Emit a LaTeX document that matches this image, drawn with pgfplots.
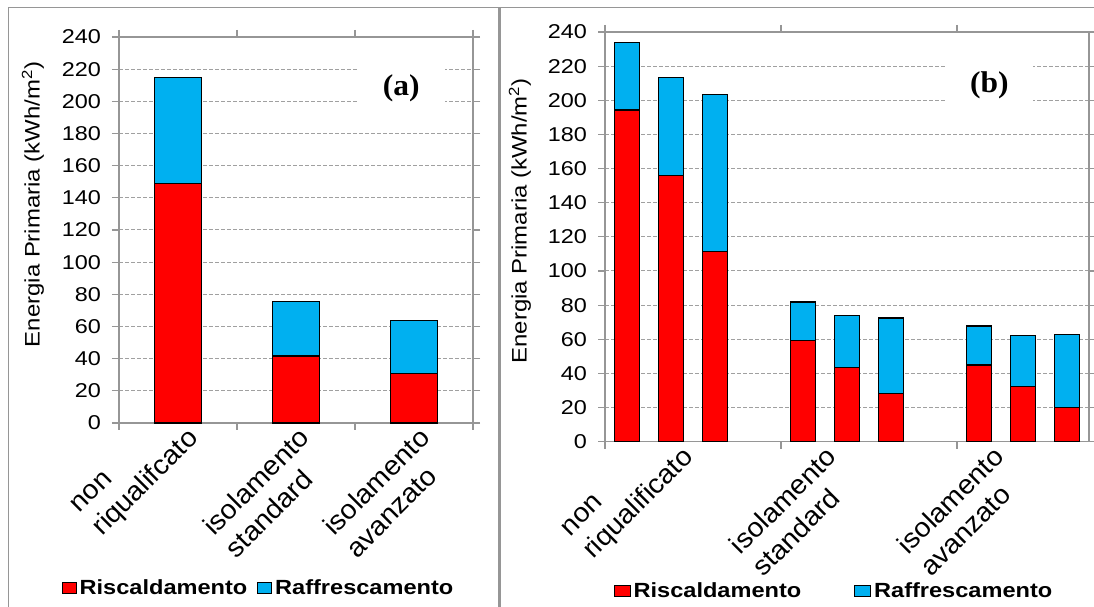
\documentclass[border=0pt]{standalone}
\usepackage{fontspec}
\setmainfont{Liberation Sans}
\newfontfamily\tickfont{Liberation Sans}[FakeStretch=1.17]
\newfontfamily\ylabfont{Liberation Sans}[FakeStretch=1.14]
\newfontfamily\xlabfont{Liberation Sans}[FakeStretch=1.05]
\newfontfamily\legfont{Liberation Sans}[FakeStretch=1.15]
\newfontfamily\panfont{Liberation Serif}[FakeStretch=1.05]
\usepackage{pgfplots}
\usepackage{pgfplotstable}
\pgfplotsset{compat=1.18}
\definecolor{heat}{RGB}{255,0,0}
\definecolor{cool}{RGB}{0,176,240}
\definecolor{gridc}{RGB}{160,160,160}
\definecolor{framec}{RGB}{150,150,150}

\pgfplotstableread{
x heat cool
0 149.0 65.7
1 41.7 33.7
2 30.9 32.7
}\dataA
\pgfplotstableread{
x heat cool
0 194.3 39.7
1 155.8 57.7
2 111.3 92.0
4 59.2 22.6
5 43.6 30.2
6 28.3 44.2
8 44.9 22.9
9 32.2 29.9
10 20.1 42.8
}\dataB

\pgfplotsset{
 legimg/.style={legend image code/.code={\draw[##1, draw=black, line width=0.8pt] (0pt,-5.8pt) rectangle (#1,5.8pt);}},
 panel/.style={
  scale only axis, anchor=south west,
  ybar stacked,
  ymin=0, ymax=240, ytick={0,20,...,240},
  axis line style={draw=framec, line width=1.2pt},
  ymajorgrids, grid style={draw=gridc, dash pattern=on 4pt off 2pt, line width=1pt},
  tick align=outside, major tick length=7pt,
  tick style={draw=framec, line width=1.2pt},
  /pgf/number format/assume math mode=true,
  yticklabel style={font=\tickfont\fontsize{20}{24}\selectfont, inner sep=0pt, anchor=east, xshift=-11pt},
  xticklabels={},
  extra x tick style={major tick length=0pt, grid=none,
     xticklabel style={font=\xlabfont\fontsize{27}{32}\selectfont, yshift=-12pt, rotate=45, anchor=east, inner sep=0pt}},
  every axis y label/.style={rotate=90, anchor=center, font=\ylabfont\fontsize{21}{24}\selectfont},
  legend columns=2,
  legend style={draw=none, fill=none, inner sep=0pt, anchor=west,
     font=\legfont\bfseries\fontsize{20.5}{24}\selectfont,
     nodes={inner xsep=3pt, inner ysep=0pt}},
  clip=false,
 }
}

\begin{document}
\begin{tikzpicture}
\useasboundingbox (0pt,0pt) rectangle (1094pt,607pt);
\fill[white] (0pt,0pt) rectangle (1094pt,607pt);

% ---------- panel (a)
\begin{axis}[panel, at={(119pt,184pt)}, width=354pt, height=386pt,
  bar width=47pt, xmin=-0.5, xmax=2.5,
  xtick={-0.5,0.5,1.5,2.5},
  extra x ticks={0.144,1.090,2.110},
  extra x tick labels={
   {\rlap{\raisebox{32pt}[0pt][0pt]{non\strut}}riqualifcato\strut},
   {\rlap{\raisebox{-32pt}[0pt][0pt]{standard\strut}}isolamento\strut},
   {\rlap{\raisebox{-32pt}[0pt][0pt]{avanzato\strut}}isolamento\strut}},
  ylabel={Energia Primaria (kWh/m\textsuperscript{2})},
  ylabel style={at={(axis description cs:-0.243,0.566)}},
  legend style={at={(axis description cs:-0.162,-0.4275)},
     /tikz/every even column/.append style={column sep=7pt}},
]
\addplot[fill=heat, draw=black, line width=1.2pt, legimg=14pt] table[x=x,y=heat]{\dataA};
\addplot[fill=cool, draw=black, line width=1.2pt, legimg=14pt] table[x=x,y=cool]{\dataA};
\legend{Riscaldamento, Raffrescamento}
\node[fill=white, minimum width=88pt, minimum height=50pt, inner sep=0pt,
  font=\panfont\bfseries\fontsize{30}{33}\selectfont] at (rel axis cs:0.797,0.868) {(a)};
\end{axis}

% ---------- panel (b)
\begin{axis}[panel, at={(605pt,165.3pt)}, width=484pt, height=409.7pt,
  bar width=24.5pt, xmin=-0.5, xmax=10.5,
  xtick={-0.5,3.5,7.5},
  extra x ticks={1.437,4.693,8.50},
  extra x tick labels={
   {\rlap{\raisebox{32pt}[0pt][0pt]{non\strut}}riqualificato\strut},
   {\rlap{\raisebox{-32pt}[0pt][0pt]{standard\strut}}isolamento\strut},
   {\rlap{\raisebox{-32pt}[0pt][0pt]{avanzato\strut}}isolamento\strut}},
  ylabel={Energia Primaria (kWh/m\textsuperscript{2})},
  ylabel style={at={(axis description cs:-0.1756,0.539)}},
  legend style={at={(axis description cs:0.0178,-0.3637)},
     /tikz/every even column/.append style={column sep=50pt}},
]
\addplot[fill=heat, draw=black, line width=1.2pt, legimg=16pt] table[x=x,y=heat]{\dataB};
\addplot[fill=cool, draw=black, line width=1.2pt, legimg=16pt] table[x=x,y=cool]{\dataB};
\legend{Riscaldamento, Raffrescamento}
\node[fill=white, minimum width=88pt, minimum height=50pt, inner sep=0pt,
  font=\panfont\bfseries\fontsize{30}{33}\selectfont] at (rel axis cs:0.794,0.871) {(b)};
\end{axis}

% ---------- outer frame
\draw[framec, line width=1.5pt] (8.3pt,0pt) -- (8.3pt,599.5pt) -- (1094pt,599.5pt);
\draw[framec, line width=2.7pt] (499.8pt,599.5pt) -- (499.8pt,0pt);
\end{tikzpicture}
\end{document}
